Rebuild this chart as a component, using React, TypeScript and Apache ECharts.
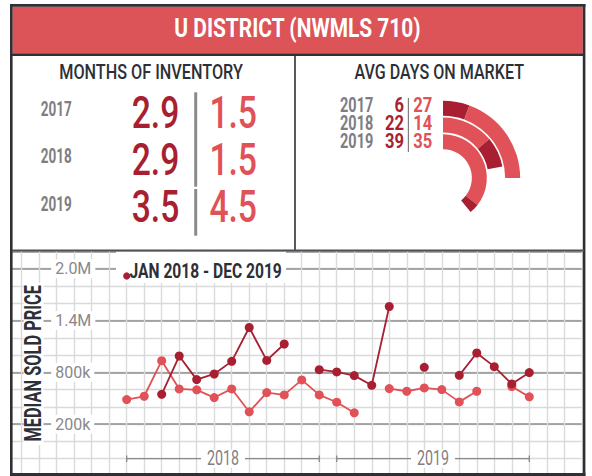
import React, { useEffect, useRef } from "react";
import * as echarts from "echarts";

// ---------------- data ----------------
const title = "U DISTRICT (NWMLS 710)";
const inventoryTitle = "MONTHS OF INVENTORY";
const daysTitle = "AVG DAYS ON MARKET";

const inventoryYears = ["2017", "2018", "2019"];
const inventoryDark = ["2.9", "2.9", "3.5"];
const inventoryLight = ["1.5", "1.5", "4.5"];

const daysYears = ["2017", "2018", "2019"];
const daysDark = [6, 22, 39];
const daysLight = [27, 14, 35];

// ring segments (degrees, clockwise from 12 o'clock); 2017 = outer ring
const ringLeadDeg = [20, 50, 128];
const ringTailDeg = [70, 29, 13];
const ringLeadIsDark = [true, false, false];

const months = [
  "Jan 2018", "Feb 2018", "Mar 2018", "Apr 2018", "May 2018", "Jun 2018",
  "Jul 2018", "Aug 2018", "Sep 2018", "Oct 2018", "Nov 2018", "Dec 2018",
  "Jan 2019", "Feb 2019", "Mar 2019", "Apr 2019", "May 2019", "Jun 2019",
  "Jul 2019", "Aug 2019", "Sep 2019", "Oct 2019", "Nov 2019", "Dec 2019",
];
const priceDark = [
  null, null, 546000, 989000, 716000, 781000, 927000, 1319000, 938000, 1128000, null, 831000,
  805000, 762000, 650000, 1562000, null, 858000, null, 765000, 1024000, 866000, 666000, 797000,
];
const priceLight = [
  485000, 523000, 935000, 608000, 597000, 508000, 608000, 343000, 566000, 539000, 712000, 539000,
  454000, 331000, null, 612000, 581000, 620000, 600000, 458000, 581000, null, 635000, 516000,
];

const legendLabel = "JAN 2018 - DEC 2019";
const priceAxisName = "MEDIAN SOLD PRICE";
const priceTickValues = [200000, 800000, 1400000, 2000000];
const priceTickLabels = ["200k", "800k", "1.4M", "2.0M"];
const yearLabels = ["2018", "2019"];
const yearFirstMonth = [0, 12];
const yearLastMonth = [11, 23];

// ---------------- styles ----------------
const DARK = "#a71f31";
const LIGHT = "#e05257";
const HEADER = "#dc5458";
const INK = "#2d2f36";
const GRAY = "#7e7e82";
const FRAME = "#2f3034";
const FONT_FAMILY = "Roboto";
const CAP = 0.711;

let measureCtx: CanvasRenderingContext2D | null = null;
function measure(text: string, font: string): number {
  if (!measureCtx) measureCtx = document.createElement("canvas").getContext("2d");
  measureCtx!.font = font;
  return measureCtx!.measureText(text).width || 1;
}
function fontOf(weight: number, cap: number) {
  return `${weight} ${(cap / CAP).toFixed(2)}px ${FONT_FAMILY}`;
}
function scaleFor(text: string, font: string, width: number) {
  return width / measure(text, font);
}

function textEl(
  text: string,
  x: number,
  y: number,
  font: string,
  scale: number,
  fill: string,
  align: string,
  extra: any = {}
) {
  return {
    type: "text",
    x,
    y,
    scaleX: scale,
    z: 40,
    ...extra,
    style: {
      text,
      font,
      fill,
      align,
      verticalAlign: "middle",
      textAlign: align,
      textVerticalAlign: "middle",
    },
  };
}

function line(x1: number, y1: number, x2: number, y2: number, stroke: string, lineWidth: number, z = 30) {
  return { type: "line", z, shape: { x1, y1, x2, y2 }, style: { stroke, lineWidth } };
}
function rect(x: number, y: number, width: number, height: number, fill: string, z: number) {
  return { type: "rect", z, shape: { x, y, width, height }, style: { fill } };
}

function buildGraphic() {
  const els: any[] = [];
  // covers outside frame
  els.push(rect(0, 0, 10.2, 476, "#fff", 20));
  els.push(rect(585.2, 0, 7, 476, "#fff", 20));
  // header
  els.push(rect(12.4, 6.6, 570.4, 47.2, HEADER, 21));
  // frame lines
  els.push(line(10, 5.3, 585.4, 5.3, FRAME, 2.7));
  els.push(line(11.3, 4, 11.3, 476, FRAME, 2.6));
  els.push(line(584.1, 4, 584.1, 476, FRAME, 2.6));
  els.push(line(10, 474.6, 585.4, 474.6, FRAME, 3));
  els.push(line(12, 54.7, 584, 54.7, FRAME, 2.6));
  els.push(line(295, 55, 295, 250, FRAME, 1.6));
  els.push(line(12, 250.4, 584, 250.4, "#505156", 2));

  // title
  const tf = fontOf(700, 18.5);
  els.push(textEl(title, 297.5, 28.6, tf, scaleFor(title, tf, 247), "#fff", "center"));
  const sf = fontOf(500, 14.6);
  els.push(textEl(inventoryTitle, 151, 72.8, sf, scaleFor(inventoryTitle, sf, 183.4), INK, "center"));
  els.push(textEl(daysTitle, 439.2, 72.8, sf, scaleFor(daysTitle, sf, 169.4), INK, "center"));

  // months of inventory
  const rowY1 = [108.7, 156.3, 203.7];
  const rowY2 = [112.5, 159.5, 207.1];
  const yf = fontOf(700, 13.8);
  const ys = scaleFor(inventoryYears[0], yf, 31);
  const nf = fontOf(500, 31.7);
  const ns = scaleFor(inventoryDark[0], nf, 47.6);
  inventoryYears.forEach((yr, i) => {
    els.push(textEl(yr, 40.7, rowY1[i], yf, ys, GRAY, "left"));
    els.push(textEl(inventoryDark[i], 179.3, rowY2[i], nf, ns, DARK, "right"));
    els.push(textEl(inventoryLight[i], 257, rowY2[i], nf, ns, LIGHT, "right"));
  });
  els.push(rect(194.2, 92.3, 3, 94.4, "#8b8b8f", 30));
  els.push(rect(194.2, 189, 3, 46.7, "#8b8b8f", 30));

  // avg days on market labels
  const dy = [105.3, 123.3, 141.3];
  const df = fontOf(700, 13.8);
  const dys = scaleFor(daysYears[0], df, 33.3);
  const dnf = fontOf(700, 13.8);
  const dns = scaleFor("22", dnf, 19);
  daysYears.forEach((yr, i) => {
    els.push(textEl(yr, 340, dy[i], df, dys, GRAY, "left"));
    els.push(textEl(String(daysDark[i]), 404, dy[i], dnf, dns, DARK, "right"));
    els.push(textEl(String(daysLight[i]), 413.3, dy[i], dnf, dns, LIGHT, "left"));
  });
  els.push(line(408.4, 98, 408.4, 152, GRAY, 1.2));

  // chart axis name
  els.push(rect(23.5, 283, 20, 162, "#fff", 10));
  const af = fontOf(700, 16.7);
  els.push(
    textEl(priceAxisName, 33.3, 363.3, af, scaleFor(priceAxisName, af, 156.7), INK, "center", {
      rotation: Math.PI / 2,
    })
  );
  // legend
  els.push(rect(116, 251.5, 170, 31.5, "#fff", 10));
  els.push({ type: "circle", z: 12, shape: { cx: 126.7, cy: 276, r: 3.6 }, style: { fill: DARK } });
  const lf = fontOf(700, 15);
  els.push(textEl(legendLabel, 129.5, 270.8, lf, scaleFor(legendLabel, lf, 152.2), INK, "left"));
  return els;
}

function buildOption() {
  const ringOrder = [2, 1, 0]; // inner → outer
  const bf = fontOf(400, 14.7);
  const bs = scaleFor(yearLabels[0], bf, 32);
  const bracketLevel = -200000;
  const BR = "#8a8a8e";

  return {
    animation: false,
    backgroundColor: "#fff",
    graphic: { elements: buildGraphic() },
    grid: { left: 4.17, top: 251.4, width: 577.63, height: 225.3, containLabel: false },
    xAxis: {
      type: "value",
      min: -7,
      max: 26,
      interval: 1,
      axisLine: { show: false },
      axisTick: { show: false },
      axisLabel: { show: false },
      splitLine: { show: true, lineStyle: { color: "#dadada", width: 1.4 } },
    },
    yAxis: [
      {
        type: "value",
        min: -400000,
        max: 2200000,
        interval: 200000,
        axisLine: { show: false },
        axisTick: { show: false },
        axisLabel: { show: false },
        splitLine: { show: true, lineStyle: { color: "#dadada", width: 1.4 } },
      },
      {
        type: "value",
        min: -400000,
        max: 2200000,
        interval: 600000,
        position: "left",
        axisLine: { show: false },
        axisTick: { show: false },
        splitLine: { show: true, lineStyle: { color: "#8f8f8f", width: 1.5 } },
        axisLabel: {
          inside: true,
          margin: 47,
          showMinLabel: false,
          showMaxLabel: false,
          formatter: (v: number) => {
            const k = priceTickValues.indexOf(Math.round(v));
            return k >= 0 ? priceTickLabels[k] : "";
          },
          color: "#88888b",
          fontFamily: FONT_FAMILY,
          fontSize: 16,
          backgroundColor: "#fff",
          padding: [2, 4, 1, 4],
          align: "left",
          verticalAlign: "middle",
        },
      },
    ],
    polar: { center: [443, 178], radius: [28, 78] },
    angleAxis: {
      type: "value",
      min: 0,
      max: 360,
      startAngle: 90,
      clockwise: true,
      show: false,
      axisLine: { show: false },
      axisTick: { show: false },
      axisLabel: { show: false },
      splitLine: { show: false },
    },
    radiusAxis: {
      type: "category",
      data: ringOrder.map((i) => daysYears[i]),
      show: false,
      axisLine: { show: false },
      axisTick: { show: false },
      axisLabel: { show: false },
      splitLine: { show: false },
    },
    series: [
      {
        type: "bar",
        name: "ringLead",
        coordinateSystem: "polar",
        stack: "ring",
        barWidth: 15,
        data: ringOrder.map((i) => ({
          value: ringLeadDeg[i],
          itemStyle: { color: ringLeadIsDark[i] ? DARK : LIGHT },
        })),
      },
      {
        type: "bar",
        name: "ringTail",
        coordinateSystem: "polar",
        stack: "ring",
        barWidth: 15,
        data: ringOrder.map((i) => ({
          value: ringTailDeg[i],
          itemStyle: { color: ringLeadIsDark[i] ? LIGHT : DARK },
        })),
      },
      {
        type: "line",
        name: "light",
        xAxisIndex: 0,
        yAxisIndex: 0,
        data: priceLight.map((v, i) => [i, v === null ? "-" : v, months[i]]),
        symbol: "circle",
        symbolSize: 9,
        connectNulls: false,
        lineStyle: { color: LIGHT, width: 1.8 },
        itemStyle: { color: LIGHT },
        z: 3,
      },
      {
        type: "line",
        name: legendLabel,
        xAxisIndex: 0,
        yAxisIndex: 0,
        data: priceDark.map((v, i) => [i, v === null ? "-" : v, months[i]]),
        symbol: "circle",
        symbolSize: 9,
        connectNulls: false,
        lineStyle: { color: DARK, width: 1.8 },
        itemStyle: { color: DARK },
        z: 4,
      },
      {
        type: "custom",
        name: "years",
        xAxisIndex: 0,
        yAxisIndex: 0,
        data: yearLabels.map((_, k) => [yearFirstMonth[k], yearLastMonth[k], bracketLevel, k]),
        encode: { x: [0, 1], y: 2 },
        z: 5,
        renderItem: (_params: any, api: any) => {
          const k = api.value(3) as number;
          const lvl = api.value(2);
          const a = api.coord([api.value(0), lvl]);
          const b = api.coord([api.value(1), lvl]);
          const mid = (a[0] + b[0]) / 2;
          return {
            type: "group",
            children: [
              { type: "line", shape: { x1: a[0], y1: a[1], x2: b[0], y2: b[1] }, style: { stroke: BR, lineWidth: 1.3 } },
              { type: "line", shape: { x1: a[0], y1: a[1] - 3.3, x2: a[0], y2: a[1] + 3.3 }, style: { stroke: BR, lineWidth: 1.3 } },
              { type: "line", shape: { x1: b[0], y1: b[1] - 3.3, x2: b[0], y2: b[1] + 3.3 }, style: { stroke: BR, lineWidth: 1.3 } },
              { type: "rect", shape: { x: mid - 22, y: a[1] - 9, width: 44, height: 18 }, style: { fill: "#fff" } },
              {
                type: "text",
                x: mid,
                y: a[1] - 0.3,
                scaleX: bs,
                style: {
                  text: yearLabels[k],
                  font: bf,
                  fill: "#808084",
                  align: "center",
                  verticalAlign: "middle",
                  textAlign: "center",
                  textVerticalAlign: "middle",
                },
              },
            ],
          };
        },
      },
    ],
  };
}

export default function App() {
  const ref = useRef<HTMLDivElement>(null);
  useEffect(() => {
    const chart = echarts.init(ref.current!, undefined, { renderer: "svg", width: 592, height: 476 });
    chart.setOption(buildOption() as any);
    return () => chart.dispose();
  }, []);
  return <div ref={ref} style={{ position: "fixed", left: 0, top: 0, width: 592, height: 476 }} />;
}
